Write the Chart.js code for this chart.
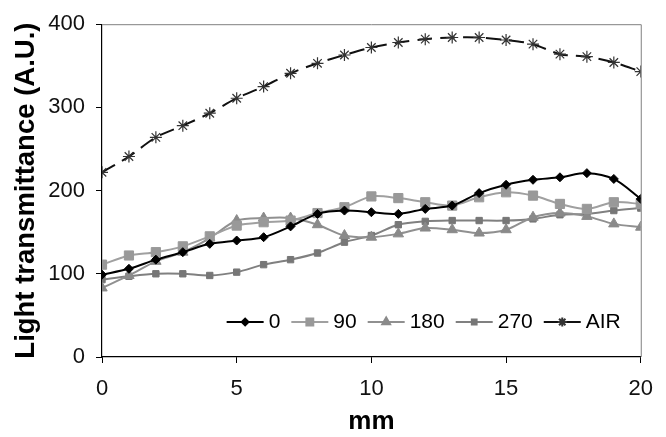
<!DOCTYPE html>
<html>
<head>
<title>Light transmittance</title>
<script src="https://cdn.jsdelivr.net/npm/chart.js"></script>
<style>
  body { margin: 0; background: #fff; }
  .chart-box { width: 666px; height: 437px; position: relative; }
</style>
</head>
<body>
<div class="chart-box"><canvas id="myChart"></canvas></div>
<script>
// distance in mm
var mm = [0, 1, 2, 3, 4, 5, 6, 7, 8, 9, 10, 11, 12, 13, 14, 15, 16, 17, 18, 19, 20];
var xTicks = [0, 5, 10, 15, 20];
var yTicks = [0, 100, 200, 300, 400];

// light transmittance per angle
var s0   = [99, 106, 117, 126, 136, 140, 144, 157, 172, 176, 174, 172, 178, 182, 197, 207, 213, 216, 221, 214, 190];
var s90  = [111, 122, 126, 133, 145, 158, 162, 164, 173, 180, 193, 191, 186, 182, 192, 198, 194, 184, 178, 186, 184];
var s180 = [83, 98, 115, 126, 143, 164, 167, 167, 159, 146, 144, 148, 155, 153, 149, 153, 168, 173, 169, 160, 156];
var s270 = [93, 97, 100, 100, 98, 102, 111, 117, 125, 138, 146, 159, 163, 164, 164, 164, 166, 171, 172, 176, 179];
var sAir = [222, 241, 264, 278, 293, 311, 325, 341, 353, 363, 372, 378, 382, 384, 384, 381, 376, 364, 361, 354, 343];

var seriesLabels = ['0', '90', '180', '270', 'AIR'];

function pts(vals) {
  return mm.map(function (x, i) { return { x: x, y: vals[i] }; });
}

var FONT = '"Liberation Sans", Arial, sans-serif';

// plot area frame (gray top/right border)
var framePlugin = {
  id: 'frame',
  beforeDatasetsDraw: function (chart) {
    var a = chart.chartArea, ctx = chart.ctx;
    ctx.save();
    ctx.strokeStyle = '#808080';
    ctx.lineWidth = 1;
    ctx.beginPath();
    ctx.moveTo(a.left, a.top + 0.5);
    ctx.lineTo(a.right + 0.5, a.top + 0.5);
    ctx.lineTo(a.right + 0.5, a.bottom);
    ctx.stroke();
    ctx.restore();
  }
};

// legend inside the plot, bottom right
var legendPlugin = {
  id: 'innerLegend',
  afterDraw: function (chart) {
    var a = chart.chartArea, ctx = chart.ctx;
    var sets = chart.data.datasets;
    var lineLen = 37, gapText = 5, gapItem = 11;
    ctx.save();
    ctx.font = '21px ' + FONT;
    var total = 0;
    sets.forEach(function (d, i) {
      total += lineLen + gapText + ctx.measureText(d.label).width;
      if (i < sets.length - 1) total += gapItem;
    });
    var x = a.right - 20 - total;
    var y = a.bottom - 35;
    sets.forEach(function (d) {
      ctx.strokeStyle = d.borderColor;
      ctx.lineWidth = 2;
      ctx.setLineDash([]);
      ctx.beginPath();
      ctx.moveTo(x, y);
      ctx.lineTo(x + lineLen, y);
      ctx.stroke();
      ctx.fillStyle = d.pointBackgroundColor;
      ctx.strokeStyle = d.pointBorderColor;
      Chart.helpers.drawPoint(ctx, {
        pointStyle: d.pointStyle,
        radius: d.pointRadius * 0.75,
        rotation: 0,
        borderWidth: d.pointBorderWidth
      }, x + lineLen / 2, y);
      ctx.fillStyle = '#000';
      ctx.textBaseline = 'middle';
      ctx.textAlign = 'left';
      ctx.fillText(d.label, x + lineLen + gapText, y);
      x += lineLen + gapText + ctx.measureText(d.label).width + gapItem;
    });
    ctx.restore();
  }
};

var ctx = document.getElementById('myChart').getContext('2d');
var chart = new Chart(ctx, {
  type: 'line',
  data: {
    datasets: [
      {
        label: seriesLabels[0], data: pts(s0),
        borderColor: '#000', borderWidth: 2,
        pointStyle: 'rectRot', pointRadius: 4.5,
        pointBackgroundColor: '#000', pointBorderColor: '#000', pointBorderWidth: 1
      },
      {
        label: seriesLabels[1], data: pts(s90),
        borderColor: '#a0a0a0', borderWidth: 2,
        pointStyle: 'rect', pointRadius: 6.5,
        pointBackgroundColor: '#999', pointBorderColor: '#999', pointBorderWidth: 1
      },
      {
        label: seriesLabels[2], data: pts(s180),
        borderColor: '#909090', borderWidth: 2,
        pointStyle: 'triangle', pointRadius: 6,
        pointBackgroundColor: '#8a8a8a', pointBorderColor: '#8a8a8a', pointBorderWidth: 1
      },
      {
        label: seriesLabels[3], data: pts(s270),
        borderColor: '#808080', borderWidth: 2,
        pointStyle: 'rect', pointRadius: 4.5,
        pointBackgroundColor: '#777', pointBorderColor: '#777', pointBorderWidth: 1
      },
      {
        label: seriesLabels[4], data: pts(sAir),
        borderColor: '#111', borderWidth: 2, borderDash: [15, 8],
        pointStyle: 'star', pointRadius: 6,
        pointBackgroundColor: '#333', pointBorderColor: '#333', pointBorderWidth: 1.2
      }
    ]
  },
  options: {
    responsive: true,
    maintainAspectRatio: false,
    animation: false,
    elements: { line: { tension: 0.3 } },
    layout: { padding: { left: 0, right: 14, top: 14, bottom: 0 } },
    plugins: {
      legend: { display: false },
      tooltip: { enabled: false }
    },
    scales: {
      x: {
        type: 'linear', min: 0, max: 20,
        afterFit: function (s) { s.height = 80; },
        afterBuildTicks: function (s) { s.ticks = xTicks.map(function (v) { return { value: v }; }); },
        border: { color: '#000', width: 1.2 },
        grid: { drawOnChartArea: false, drawTicks: true, tickLength: 6, tickColor: '#000' },
        ticks: { color: '#111', padding: 13, font: { family: FONT, size: 22 } },
        title: {
          display: true, text: 'mm', color: '#000',
          font: { family: FONT, size: 26, weight: 'bold' },
          padding: { top: 0, bottom: 0 }
        }
      },
      y: {
        min: 0, max: 400,
        afterFit: function (s) { s.width = 102; },
        afterBuildTicks: function (s) { s.ticks = yTicks.map(function (v) { return { value: v }; }); },
        border: { color: '#000', width: 1.2 },
        grid: { drawOnChartArea: false, drawTicks: true, tickLength: 6, tickColor: '#000' },
        ticks: { color: '#111', padding: 11, font: { family: FONT, size: 22 } },
        title: {
          display: true, text: 'Light transmittance (A.U.)', color: '#000',
          font: { family: FONT, size: 27.5, weight: 'bold' },
          padding: { top: 10, bottom: 0 }
        }
      }
    }
  },
  plugins: [framePlugin, legendPlugin]
});
</script>
</body>
</html>
